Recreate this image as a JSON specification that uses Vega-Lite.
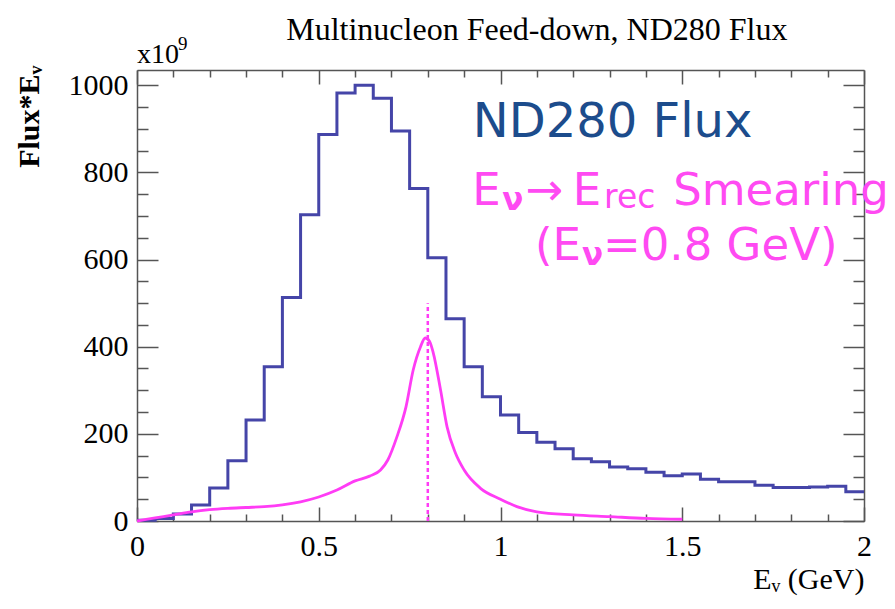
{
  "$schema": "https://vega.github.io/schema/vega-lite/v6.json",
  "width": 727,
  "height": 451,
  "autosize": "none",
  "padding": {"left": 137, "top": 70, "right": 31, "bottom": 88},
  "background": "white",
  "config": {"view": {"stroke": null}, "axis": {"grid": false}},
  "datasets": {
    "hist": [
      {"E": 0.0, "flux": 2}, {"E": 0.05, "flux": 6}, {"E": 0.1, "flux": 16}, {"E": 0.15, "flux": 37},
      {"E": 0.2, "flux": 76}, {"E": 0.25, "flux": 138}, {"E": 0.3, "flux": 232}, {"E": 0.35, "flux": 354},
      {"E": 0.4, "flux": 513}, {"E": 0.45, "flux": 703}, {"E": 0.5, "flux": 887}, {"E": 0.55, "flux": 982},
      {"E": 0.6, "flux": 1000}, {"E": 0.65, "flux": 970}, {"E": 0.7, "flux": 895}, {"E": 0.75, "flux": 763},
      {"E": 0.8, "flux": 604}, {"E": 0.85, "flux": 464}, {"E": 0.9, "flux": 354}, {"E": 0.95, "flux": 285},
      {"E": 1.0, "flux": 243}, {"E": 1.05, "flux": 203}, {"E": 1.1, "flux": 181}, {"E": 1.15, "flux": 166},
      {"E": 1.2, "flux": 143}, {"E": 1.25, "flux": 136}, {"E": 1.3, "flux": 124}, {"E": 1.35, "flux": 120},
      {"E": 1.4, "flux": 112}, {"E": 1.45, "flux": 104}, {"E": 1.5, "flux": 108}, {"E": 1.55, "flux": 96},
      {"E": 1.6, "flux": 90}, {"E": 1.65, "flux": 90}, {"E": 1.7, "flux": 82}, {"E": 1.75, "flux": 77},
      {"E": 1.8, "flux": 77}, {"E": 1.85, "flux": 78}, {"E": 1.9, "flux": 80}, {"E": 1.95, "flux": 67},
      {"E": 2.0, "flux": 67}
    ],
    "smear": [
      {"E": 0.0, "v": 0}, {"E": 0.05, "v": 7}, {"E": 0.1, "v": 14}, {"E": 0.15, "v": 21},
      {"E": 0.2, "v": 26}, {"E": 0.25, "v": 29}, {"E": 0.3, "v": 31}, {"E": 0.35, "v": 33},
      {"E": 0.4, "v": 37}, {"E": 0.45, "v": 44}, {"E": 0.5, "v": 55}, {"E": 0.55, "v": 71},
      {"E": 0.6, "v": 92}, {"E": 0.64, "v": 103}, {"E": 0.67, "v": 117}, {"E": 0.69, "v": 140},
      {"E": 0.715, "v": 193}, {"E": 0.74, "v": 262}, {"E": 0.76, "v": 347}, {"E": 0.78, "v": 400},
      {"E": 0.793, "v": 420}, {"E": 0.805, "v": 412}, {"E": 0.815, "v": 386}, {"E": 0.835, "v": 301},
      {"E": 0.853, "v": 216}, {"E": 0.876, "v": 156}, {"E": 0.9, "v": 117}, {"E": 0.945, "v": 75},
      {"E": 1.0, "v": 50}, {"E": 1.045, "v": 33}, {"E": 1.1, "v": 21}, {"E": 1.2, "v": 14},
      {"E": 1.3, "v": 10}, {"E": 1.4, "v": 6}, {"E": 1.5, "v": 4}
    ],
    "marker": [{"E": 0.8, "lo": 0, "hi": 500}],
    "titleText": [{"x": 1.1, "y": 1103, "t": "Multinucleon Feed-down, ND280 Flux"}],
    "pinkBig": [
      {"x": 0.922, "y": 725, "t": "E"},
      {"x": 1.068, "y": 725, "t": "→"},
      {"x": 1.199, "y": 725, "t": "E"},
      {"x": 1.475, "y": 725, "t": "Smearing"},
      {"x": 1.095, "y": 599, "t": "(E"},
      {"x": 1.282, "y": 599, "t": "=0.8 GeV)"}
    ],
    "pinkNu": [
      {"x": 1.005, "y": 713, "t": "ν"},
      {"x": 1.224, "y": 587, "t": "ν"}
    ],
    "pinkRec": [{"x": 1.285, "y": 718, "t": "rec"}],
    "blueText": [{"x": 0.924, "y": 881, "t": "ND280 Flux"}],
    "expo": [{"x": 0.0, "y": 1050, "t": "x10"}],
    "expoSup": [{"x": 0.113, "y": 1080, "t": "9"}]
  },
  "layer": [
    {
      "data": {"name": "hist"},
      "mark": {"type": "line", "interpolate": "step-after", "color": "#4545a8", "strokeWidth": 3},
      "encoding": {
        "x": {
          "field": "E", "type": "quantitative",
          "scale": {"domain": [0, 2], "nice": false, "zero": false},
          "axis": {
            "orient": "bottom",
            "values": [0, 0.1, 0.2, 0.3, 0.4, 0.5, 0.6, 0.7, 0.8, 0.9, 1, 1.1, 1.2, 1.3, 1.4, 1.5, 1.6, 1.7, 1.8, 1.9, 2],
            "format": "~g",
            "labelExpr": "abs(datum.value*2-round(datum.value*2))<0.001 ? datum.label : ''",
            "tickSize": {"condition": {"test": "abs(datum.value*2-round(datum.value*2))<0.001", "value": -14}, "value": -7},
            "tickColor": "#555", "tickWidth": 1.5,
            "domainColor": "#555", "domainWidth": 1.5,
            "labelFont": "Liberation Serif", "labelFontSize": 30, "labelColor": "black",
            "labelPadding": 24, "labelFlush": false, "labelOverlap": false, "labelBaseline": "top",
            "title": "Eᵥ (GeV)",
            "titleFont": "Liberation Serif", "titleFontSize": 30, "titleFontWeight": "normal", "titleColor": "black",
            "titleX": 727, "titleY": 67, "titleAlign": "right", "titleBaseline": "alphabetic"
          }
        },
        "y": {
          "field": "flux", "type": "quantitative",
          "scale": {"domain": [0, 1035], "nice": false},
          "axis": {
            "orient": "left",
            "values": [0, 50, 100, 150, 200, 250, 300, 350, 400, 450, 500, 550, 600, 650, 700, 750, 800, 850, 900, 950, 1000],
            "format": "d",
            "labelExpr": "datum.value % 200 == 0 ? datum.label : ''",
            "tickSize": {"condition": {"test": "datum.value % 200 == 0", "value": -21}, "value": -11},
            "tickColor": "#555", "tickWidth": 1.5,
            "domainColor": "#555", "domainWidth": 1.5,
            "labelFont": "Liberation Serif", "labelFontSize": 30, "labelColor": "black",
            "labelPadding": 30, "labelFlush": false, "labelOverlap": false,
            "title": "Flux*Eᵥ",
            "titleFont": "Liberation Serif", "titleFontSize": 30, "titleFontWeight": "bold", "titleColor": "black",
            "titleX": -108, "titleY": -5, "titleAngle": 270, "titleAlign": "right", "titleBaseline": "middle"
          }
        }
      }
    },
    {
      "data": {"name": "smear"},
      "mark": {"type": "line", "interpolate": "monotone", "color": "#ff3cf5", "strokeWidth": 2.8},
      "encoding": {
        "x": {
          "field": "E", "type": "quantitative",
          "scale": {"domain": [0, 2], "nice": false, "zero": false},
          "axis": {
            "orient": "top",
            "values": [0, 0.1, 0.2, 0.3, 0.4, 0.5, 0.6, 0.7, 0.8, 0.9, 1, 1.1, 1.2, 1.3, 1.4, 1.5, 1.6, 1.7, 1.8, 1.9, 2],
            "labels": false,
            "tickSize": {"condition": {"test": "abs(datum.value*2-round(datum.value*2))<0.001", "value": -14}, "value": -7},
            "tickColor": "#555", "tickWidth": 1.5,
            "domainColor": "#555", "domainWidth": 1.5,
            "title": null
          }
        },
        "y": {
          "field": "v", "type": "quantitative",
          "scale": {"domain": [0, 1035], "nice": false},
          "axis": {
            "orient": "right",
            "values": [0, 50, 100, 150, 200, 250, 300, 350, 400, 450, 500, 550, 600, 650, 700, 750, 800, 850, 900, 950, 1000],
            "labels": false,
            "tickSize": {"condition": {"test": "datum.value % 200 == 0", "value": -21}, "value": -11},
            "tickColor": "#555", "tickWidth": 1.5,
            "domainColor": "#555", "domainWidth": 1.5,
            "title": null
          }
        }
      }
    },
    {
      "data": {"name": "marker"},
      "mark": {"type": "rule", "color": "#ff3cf5", "strokeWidth": 2.5, "strokeDash": [4, 3]},
      "encoding": {
        "x": {"field": "E", "type": "quantitative", "scale": {"domain": [0, 2], "nice": false, "zero": false}, "axis": null},
        "y": {"field": "lo", "type": "quantitative", "scale": {"domain": [0, 1035], "nice": false}, "axis": null},
        "y2": {"field": "hi"}
      }
    },
    {
      "data": {"name": "titleText"},
      "mark": {"type": "text", "font": "Liberation Serif", "fontSize": 32, "color": "black", "align": "center", "baseline": "alphabetic"},
      "encoding": {
        "x": {"field": "x", "type": "quantitative", "scale": {"domain": [0, 2], "nice": false, "zero": false}, "axis": null},
        "y": {"field": "y", "type": "quantitative", "scale": {"domain": [0, 1035], "nice": false}, "axis": null},
        "text": {"field": "t"}
      }
    },
    {
      "data": {"name": "pinkBig"},
      "mark": {"type": "text", "font": "DejaVu Sans", "fontSize": 45, "color": "#ff4af2", "align": "left", "baseline": "alphabetic"},
      "encoding": {
        "x": {"field": "x", "type": "quantitative", "scale": {"domain": [0, 2], "nice": false, "zero": false}, "axis": null},
        "y": {"field": "y", "type": "quantitative", "scale": {"domain": [0, 1035], "nice": false}, "axis": null},
        "text": {"field": "t"}
      }
    },
    {
      "data": {"name": "pinkNu"},
      "mark": {"type": "text", "font": "DejaVu Sans", "fontSize": 31, "fontWeight": "bold", "color": "#ff4af2", "align": "left", "baseline": "alphabetic"},
      "encoding": {
        "x": {"field": "x", "type": "quantitative", "scale": {"domain": [0, 2], "nice": false, "zero": false}, "axis": null},
        "y": {"field": "y", "type": "quantitative", "scale": {"domain": [0, 1035], "nice": false}, "axis": null},
        "text": {"field": "t"}
      }
    },
    {
      "data": {"name": "pinkRec"},
      "mark": {"type": "text", "font": "DejaVu Sans", "fontSize": 33, "color": "#ff4af2", "align": "left", "baseline": "alphabetic"},
      "encoding": {
        "x": {"field": "x", "type": "quantitative", "scale": {"domain": [0, 2], "nice": false, "zero": false}, "axis": null},
        "y": {"field": "y", "type": "quantitative", "scale": {"domain": [0, 1035], "nice": false}, "axis": null},
        "text": {"field": "t"}
      }
    },
    {
      "data": {"name": "blueText"},
      "mark": {"type": "text", "font": "DejaVu Sans", "fontSize": 48, "color": "#1c4c8c", "align": "left", "baseline": "alphabetic"},
      "encoding": {
        "x": {"field": "x", "type": "quantitative", "scale": {"domain": [0, 2], "nice": false, "zero": false}, "axis": null},
        "y": {"field": "y", "type": "quantitative", "scale": {"domain": [0, 1035], "nice": false}, "axis": null},
        "text": {"field": "t"}
      }
    },
    {
      "data": {"name": "expo"},
      "mark": {"type": "text", "font": "Liberation Serif", "fontSize": 28, "color": "black", "align": "left", "baseline": "alphabetic"},
      "encoding": {
        "x": {"field": "x", "type": "quantitative", "scale": {"domain": [0, 2], "nice": false, "zero": false}, "axis": null},
        "y": {"field": "y", "type": "quantitative", "scale": {"domain": [0, 1035], "nice": false}, "axis": null},
        "text": {"field": "t"}
      }
    },
    {
      "data": {"name": "expoSup"},
      "mark": {"type": "text", "font": "Liberation Serif", "fontSize": 19, "color": "black", "align": "left", "baseline": "alphabetic"},
      "encoding": {
        "x": {"field": "x", "type": "quantitative", "scale": {"domain": [0, 2], "nice": false, "zero": false}, "axis": null},
        "y": {"field": "y", "type": "quantitative", "scale": {"domain": [0, 1035], "nice": false}, "axis": null},
        "text": {"field": "t"}
      }
    }
  ],
  "resolve": {"axis": {"x": "independent", "y": "independent"}}
}
